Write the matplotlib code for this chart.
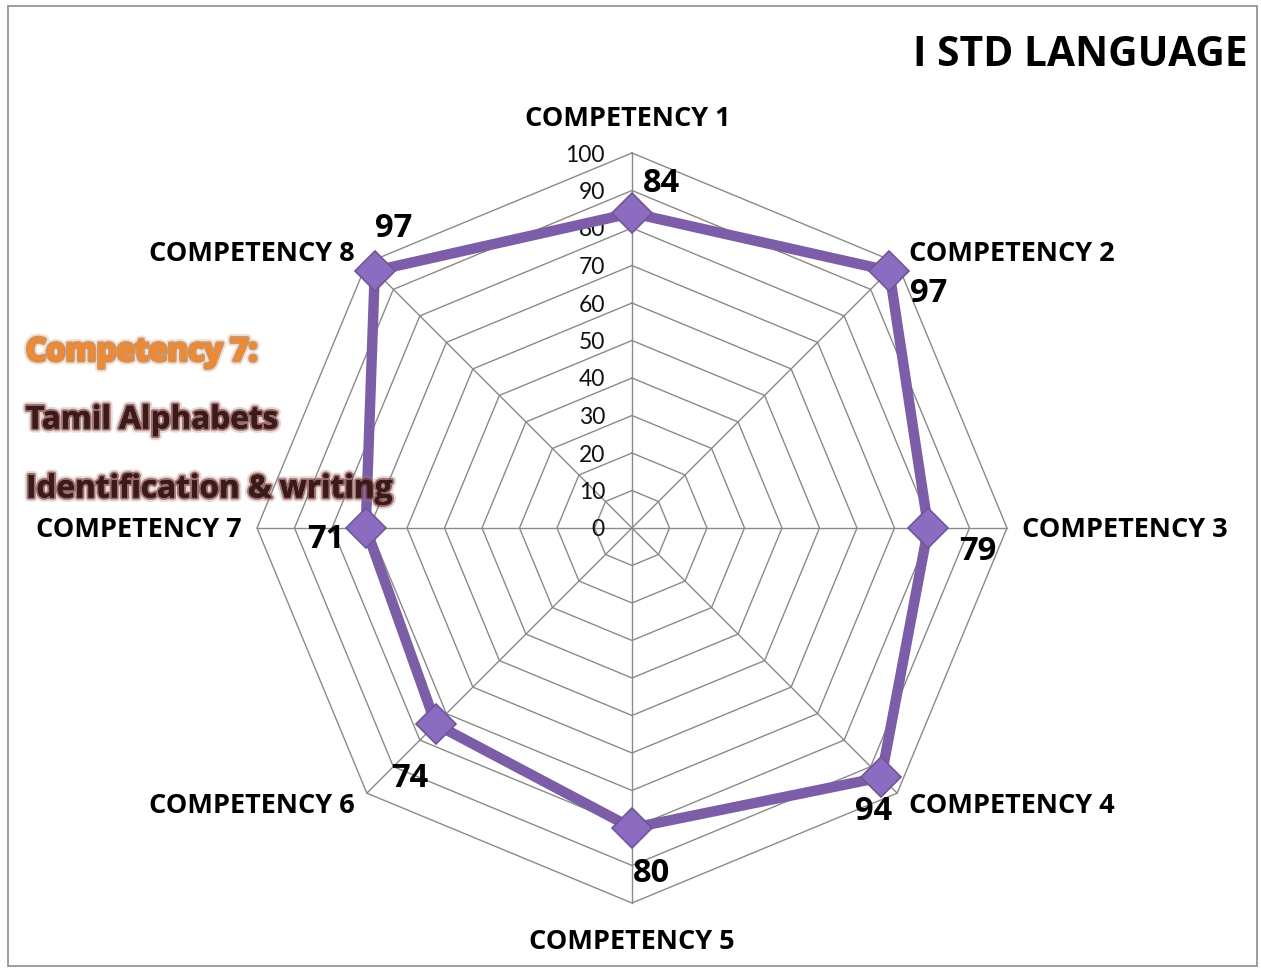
#!/usr/bin/env python3
# -*- coding: utf-8 -*-

import numpy as np
import matplotlib
matplotlib.use("Agg")
import matplotlib.pyplot as plt
import matplotlib.patheffects as pe
from matplotlib.patches import Rectangle

# ─── Data ─────────────────────────────────────────────────────────────────────
categories = ["COMPETENCY 1", "COMPETENCY 2", "COMPETENCY 3", "COMPETENCY 4",
              "COMPETENCY 5", "COMPETENCY 6", "COMPETENCY 7", "COMPETENCY 8"]
scores = [84, 97, 79, 94, 80, 74, 71, 97]
ticks = [0, 10, 20, 30, 40, 50, 60, 70, 80, 90, 100]
title = "I STD LANGUAGE"
note_lines = ["Competency 7:", "Tamil Alphabets", "Identification & writing"]

# ─── Layout (pixel space) ─────────────────────────────────────────────────────
W, H = 1261, 968
CX, CY = 632, 528          # centre of the radar
SCALE = 3.75               # px per unit value
plt.rcParams["font.family"] = ["Lato", "DejaVu Sans"]
BOLD = ["Open Sans", "DejaVu Sans"]

n = len(categories)
theta = np.arange(n) * 2 * np.pi / n   # clockwise from top


def to_xy(r, th):
    return CX + r * SCALE * np.sin(th), CY - r * SCALE * np.cos(th)


fig = plt.figure(figsize=(W / 100, H / 100), dpi=100)
ax = fig.add_axes([0, 0, 1, 1])
ax.set_xlim(0, W)
ax.set_ylim(H, 0)
ax.axis("off")

# outer frame
ax.add_patch(Rectangle((8, 6), 1249, 960, fill=False, ec="#8c8c8c", lw=1.2))

# ─── Grid: octagons + spokes ──────────────────────────────────────────────────
grid_c = "#8a8a8a"
th_closed = np.append(theta, theta[0])
for t in ticks[1:]:
    gx, gy = to_xy(t, th_closed)
    ax.plot(gx, gy, color=grid_c, lw=1.0, zorder=1)
for th in theta:
    sx, sy = to_xy(np.array([0, ticks[-1]]), th)
    ax.plot(sx, sy, color=grid_c, lw=1.0, zorder=1)

# radial tick labels along top spoke
for t in ticks:
    tx, ty = to_xy(t, 0)
    ax.text(tx - 27, ty + 2, str(t), ha="right", va="center", fontsize=16.5,
            color="#111111", zorder=2)

# ─── Series ───────────────────────────────────────────────────────────────────
vals = np.array(scores + scores[:1], dtype=float)
px, py = to_xy(vals, th_closed)
ax.plot(px, py, color="#7b5ea7", lw=7.5, solid_joinstyle="miter", zorder=3)
mx, my = to_xy(np.array(scores, dtype=float), theta)
ax.plot(mx, my, ls="none", marker="D", ms=20, mfc="#8c6cc0", mec="#6f5596",
        mew=1.2, zorder=4)

# data labels (offsets in px from marker)
lab_off = [(29, -30), (39, 23), (49, 24), (-8, 34), (19, 45), (-26, 54),
           (-40, 11), (19, -42)]
for (x0, y0), v, (dx, dy) in zip(zip(mx, my), scores, lab_off):
    ax.text(x0 + dx, y0 + dy, str(v), ha="center", va="center",
            fontsize=23.5, fontweight="bold", family=BOLD, color="black",
            zorder=5)

# category labels
cat_pos = [(628, 119, "center"), (909, 254, "left"), (1022, 530, "left"),
           (909, 806, "left"), (632, 942, "center"), (355, 806, "right"),
           (242, 530, "right"), (355, 254, "right")]
for name, (x0, y0, ha) in zip(categories, cat_pos):
    ax.text(x0, y0, name, ha=ha, va="center", fontsize=19.5,
            fontweight="bold", family=BOLD, color="black", zorder=5)

# title
ax.text(1248, 56, title, ha="right", va="center", fontsize=29.3,
        fontweight="bold", family=BOLD, color="black")

# ─── Overlay note ─────────────────────────────────────────────────────────────
glow_orange = [pe.withStroke(linewidth=6, foreground="#d9a070", alpha=0.3),
               pe.withStroke(linewidth=3, foreground="#b4652a", alpha=0.6),
               pe.Normal()]
glow_dark = [pe.withStroke(linewidth=6, foreground="#b08080", alpha=0.3),
             pe.withStroke(linewidth=3, foreground="#6b2a2a", alpha=0.6),
             pe.Normal()]
note_y = [352, 420, 489]
note_col = ["#ef8a30", "#3b1a1a", "#3b1a1a"]
for i, (txt, y0, c) in enumerate(zip(note_lines, note_y, note_col)):
    ax.text(26, y0, txt, ha="left", va="center", fontsize=22.7,
            fontweight="bold", family=BOLD, color=c, zorder=6,
            path_effects=glow_orange if i == 0 else glow_dark)

fig.savefig("out.png", dpi=100, facecolor="white")
